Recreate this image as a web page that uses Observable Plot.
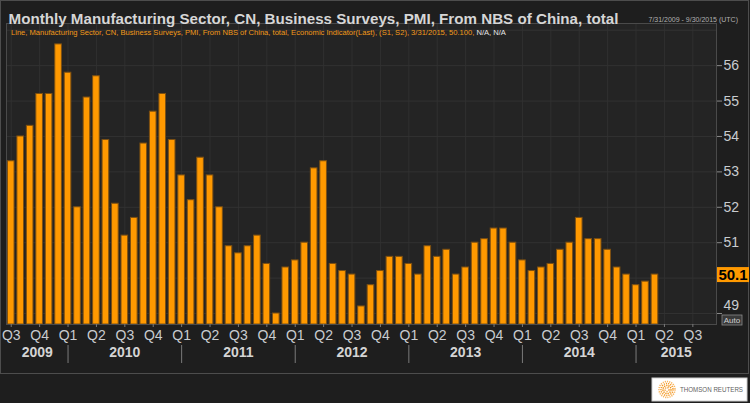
<!DOCTYPE html>
<html>
<head>
<meta charset="utf-8">
<script src="https://cdn.jsdelivr.net/npm/d3@7"></script>
<script src="https://cdn.jsdelivr.net/npm/@observablehq/plot@0.6"></script>
<style>
html, body { margin: 0; padding: 0; background: #1e1e1e; }
#chart { position: relative; width: 750px; height: 403px; overflow: hidden; }
</style>
</head>
<body>
<div id="chart"></div>
<script>
// ---- data ----
const months = [
  "2009-07","2009-08","2009-09","2009-10","2009-11","2009-12",
  "2010-01","2010-02","2010-03","2010-04","2010-05","2010-06","2010-07","2010-08","2010-09","2010-10","2010-11","2010-12",
  "2011-01","2011-02","2011-03","2011-04","2011-05","2011-06","2011-07","2011-08","2011-09","2011-10","2011-11","2011-12",
  "2012-01","2012-02","2012-03","2012-04","2012-05","2012-06","2012-07","2012-08","2012-09","2012-10","2012-11","2012-12",
  "2013-01","2013-02","2013-03","2013-04","2013-05","2013-06","2013-07","2013-08","2013-09","2013-10","2013-11","2013-12",
  "2014-01","2014-02","2014-03","2014-04","2014-05","2014-06","2014-07","2014-08","2014-09","2014-10","2014-11","2014-12",
  "2015-01","2015-02","2015-03"
];
const pmi = [
  53.3, 54.0, 54.3, 55.2, 55.2, 56.6,
  55.8, 52.0, 55.1, 55.7, 53.9, 52.1, 51.2, 51.7, 53.8, 54.7, 55.2, 53.9,
  52.9, 52.2, 53.4, 52.9, 52.0, 50.9, 50.7, 50.9, 51.2, 50.4, 49.0, 50.3,
  50.5, 51.0, 53.1, 53.3, 50.4, 50.2, 50.1, 49.2, 49.8, 50.2, 50.6, 50.6,
  50.4, 50.1, 50.9, 50.6, 50.8, 50.1, 50.3, 51.0, 51.1, 51.4, 51.4, 51.0,
  50.5, 50.2, 50.3, 50.4, 50.8, 51.0, 51.7, 51.1, 51.1, 50.8, 50.3, 50.1,
  49.8, 49.9, 50.1
];
const axisStart = "2009-07";
const axisEnd = "2015-09";
const quarterLabels = ["Q1", "Q2", "Q3", "Q4"];
const years = [2009, 2010, 2011, 2012, 2013, 2014, 2015];
const yTickLabels = [49, 51, 52, 53, 54, 55, 56];
const yGrid = [49, 50, 51, 52, 53, 54, 55, 56, 57];
const yDomain = [48.69, 57.19];
const titleText = "Monthly Manufacturing Sector, CN, Business Surveys, PMI, From NBS of China, total";
const rangeText = "7/31/2009 - 9/30/2015 (UTC)";
const legendText = "Line, Manufacturing Sector, CN, Business Surveys, PMI, From NBS of China, total, Economic Indicator(Last), (S1, S2), 3/31/2015, 50.100,";
const legendNA = "N/A, N/A";
const lastLabel = "50.1";
const autoLabel = "Auto";
const logoText = "THOMSON REUTERS";

// ---- helpers ----
function monthIndex(s) {
  const [y, m] = s.split("-").map(Number);
  const [y0, m0] = axisStart.split("-").map(Number);
  return (y - y0) * 12 + (m - m0);
}
const lastIdx = monthIndex(axisEnd);
const xDomain = [-0.5, lastIdx + 0.5];
const rows = months.map((m, k) => ({i: monthIndex(m), v: pmi[k]}));

const allIdx = d3.range(0, lastIdx + 1);
const calMonth = i => ((+axisStart.split("-")[1] - 1 + i) % 12) + 1;
const quarterIdx = allIdx.filter(i => (calMonth(i) - 1) % 3 === 0);
const janIdx = allIdx.filter(i => calMonth(i) === 1);
const yearRows = years.map(y => {
  const left = Math.max(xDomain[0], monthIndex(`${y}-01`));
  const right = Math.min(xDomain[1], monthIndex(`${y + 1}-01`));
  return {year: String(y), mid: (left + right) / 2};
});

const labelColor = "#c9ccd0";

function decor(index, scales, values, dimensions) {
  const {width, height, marginRight, marginBottom} = dimensions;
  const g = d3.create("svg:g").attr("text-anchor", "start");
  // outer panel border
  g.append("rect").attr("x", 0.5).attr("y", 0.5)
    .attr("width", width - 2).attr("height", height - marginBottom + 49)
    .attr("fill", "none").attr("stroke", "#4d4d4d");
  // last value box
  const yv = scales.y(pmi[pmi.length - 1]);
  const x0 = width - marginRight + 1;
  g.append("rect").attr("x", x0).attr("y", yv - 7).attr("width", 32).attr("height", 15).attr("fill", "#ff9900");
  g.append("text").attr("x", x0 + 16).attr("y", yv + 0.5).attr("dy", "0.35em")
    .attr("text-anchor", "middle").attr("font-size", 15).attr("font-weight", "bold")
    .attr("fill", "#000").text(lastLabel);
  // Auto box
  const yb = height - marginBottom;
  g.append("rect").attr("x", x0 + 5).attr("y", yb - 9).attr("width", 20).attr("height", 10)
    .attr("fill", "#3a3a3a").attr("stroke", "#8a8a8a").attr("stroke-width", 0.8);
  g.append("text").attr("x", x0 + 15).attr("y", yb - 4).attr("dy", "0.35em")
    .attr("text-anchor", "middle").attr("font-size", 8).attr("fill", "#d0d0d0").text(autoLabel);
  // logo
  const lx = width - 98, ly = height - 25;
  g.append("rect").attr("x", lx).attr("y", ly).attr("width", 95).attr("height", 23).attr("fill", "#ffffff")
    .attr("stroke", "#cfcfcf");
  const cx = lx + 15, cy = ly + 11.5;
  [8, 6, 4, 2].forEach((r, k) => {
    g.append("circle").attr("cx", cx).attr("cy", cy).attr("r", r).attr("fill", "none")
      .attr("stroke", ["#f9b45c", "#f49a28", "#f08a00", "#f5a340"][k]).attr("stroke-width", 1.5)
      .attr("stroke-dasharray", "1.2 1");
  });
  g.append("text").attr("x", lx + 28).attr("y", cy).attr("dy", "0.35em")
    .attr("text-anchor", "start")
    .attr("font-size", 6.5).attr("fill", "#5f5f5f").attr("textLength", 63)
    .attr("lengthAdjust", "spacingAndGlyphs").text(logoText);
  return g.node();
}

const chart = Plot.plot({
  width: 750,
  height: 403,
  marginTop: 23,
  marginBottom: 79,
  marginLeft: 6,
  marginRight: 34,
  style: {background: "#1e1e1e", color: labelColor, fontFamily: "'Liberation Sans', Arial, sans-serif", overflow: "visible"},
  x: {domain: xDomain, axis: null},
  y: {domain: yDomain, axis: null},
  marks: [
    Plot.frame({fill: "#242424"}),
    Plot.gridX(quarterIdx, {stroke: "#303030", strokeOpacity: 1}),
    Plot.gridY(yGrid, {stroke: "#323232", strokeOpacity: 1}),
    Plot.rect(rows, {
      x1: d => d.i - 0.35, x2: d => d.i + 0.35,
      y1: () => yDomain[0], y2: "v",
      fill: "#ff9900", stroke: "#7d5012", strokeWidth: 1
    }),
    Plot.frame({stroke: "#4a4a4a"}),
    Plot.axisX({
      ticks: quarterIdx,
      tickFormat: i => quarterLabels[(calMonth(i) - 1) / 3],
      tickSize: 3, tickPadding: 2.5, fontSize: 14,
      stroke: "#7a7a7a", fill: labelColor, label: null
    }),
    Plot.ruleX(janIdx, {stroke: "#7a7a7a", insetTop: 322, insetBottom: -39}),
    Plot.text(yearRows, {
      x: "mid", text: "year", frameAnchor: "bottom", dy: 32,
      fontSize: 14, fontWeight: "bold", fill: "#d4d4d4"
    }),
    Plot.axisY({
      anchor: "right", ticks: yTickLabels,
      tickFormat: d => d === 49 ? "" : String(d),
      tickSize: 5, tickPadding: 2, fontSize: 14,
      stroke: "#8a8a8a", fill: labelColor, label: null
    }),
    Plot.text([49], {
      y: d => d, text: d => String(d), frameAnchor: "right", dx: 7, dy: -8,
      textAnchor: "start", fontSize: 14, fill: labelColor
    }),
    Plot.text([titleText], {
      text: d => d, frameAnchor: "top-left", dx: 2, dy: -10.5,
      textAnchor: "start", fontSize: 15, fontWeight: "bold", fill: "#d6d6d6"
    }),
    Plot.text([rangeText], {
      text: d => d, frameAnchor: "top-right", dx: -68, dy: -6.2,
      textAnchor: "start", fontSize: 7, fill: "#b0b0b0"
    }),
    Plot.text([legendText + " " + legendNA], {
      text: d => d, frameAnchor: "top-left", dx: 4.5, dy: 6.4,
      textAnchor: "start", fontSize: 8, fill: "#f29a1a"
    }),
    decor
  ]
});

document.getElementById("chart").appendChild(chart);

// title: condense to the reference width
d3.select(chart).selectAll("text")
  .filter(function () { return this.textContent === titleText; })
  .attr("textLength", 610).attr("lengthAdjust", "spacingAndGlyphs");

// legend line: size the font so its natural width matches the reference, and colour the N/A part
d3.select(chart).selectAll("text")
  .filter(function () { return this.textContent === legendText + " " + legendNA; })
  .each(function () {
    const t = d3.select(this);
    const natural = this.getComputedTextLength();
    const fs = Math.min(8, 8 * 496 / natural);
    t.attr("font-size", fs).text(null);
    t.append("tspan").text(legendText + " ");
    t.append("tspan").attr("fill", "#e6e6e6").text(legendNA);
  });
</script>
</body>
</html>
